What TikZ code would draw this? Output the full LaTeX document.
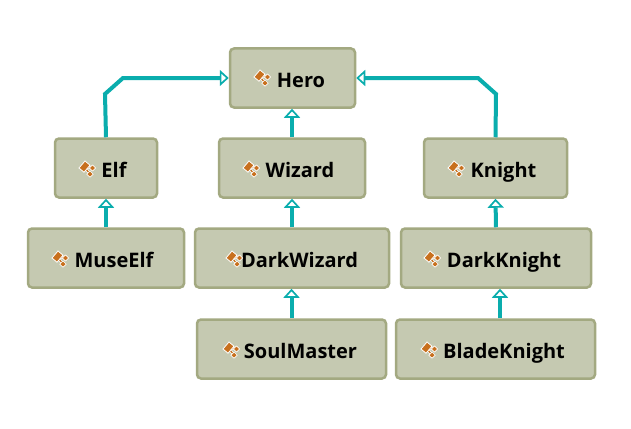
\documentclass[tikz,border=0pt]{standalone}
\usepackage{fontspec}
\setmainfont{Open Sans}
\usetikzlibrary{arrows.meta,calc}
\definecolor{boxfill}{HTML}{C5C9B1}
\definecolor{boxline}{HTML}{A3A981}
\definecolor{linkc}{HTML}{0AADAD}
\definecolor{iconc}{HTML}{C8701E}
\tikzset{
  cls/.style={draw=boxline,fill=boxfill,line width=2.5pt,rounded corners=4pt,
    minimum height=59pt,inner sep=0pt,text=black,text height=20pt,text depth=2pt,
    font=\fontsize{20}{24}\selectfont\bfseries},
  inherit/.style={draw=linkc,line width=4pt,
    -{Triangle[open,fill=white,length=9pt,width=16pt,line width=1.7pt]}},
  classicon/.pic={
    \draw[white,line width=2.6pt] (0,-2) -- (5,-1) (-1,0) -- (3,5);
    \draw[iconc,line width=1.2pt] (0,-2) -- (5,-1) (-1,0) -- (3,5);
    \fill[iconc,draw=white,line width=.8pt] (-2,-8) -- (-8,-1) -- (-3,3.2) -- (3,-3.8) -- cycle;
    \fill[iconc,draw=white,line width=.7pt] (5.5,-4) -- (8.7,-1) -- (5.5,2) -- (2.3,-1) -- cycle;
    \fill[iconc,draw=white,line width=.7pt] (3,2) -- (6.2,5.2) -- (3,8.2) -- (-.2,5.2) -- cycle;
  }
}
\newcommand{\gap}{\hspace*{16pt}}
\begin{document}
\begin{tikzpicture}[x=1pt,y=-1pt]
\useasboundingbox (0,0) rectangle (631,428);
\node[cls,minimum width=125pt] (hero) at (292.5,78) {\hspace*{17pt}Hero};
\node[cls,minimum width=102pt] (elf) at (106,168) {\gap Elf};
\node[cls,minimum width=146pt] (wizard) at (292,168) {\gap Wizard};
\node[cls,minimum width=143pt] (knight) at (495.5,168) {\gap Knight};
\node[cls,minimum width=156pt] (museelf) at (106,258) {\gap MuseElf};
\node[cls,minimum width=194pt] (darkwizard) at (292,258) {\hspace*{15pt}DarkWizard};
\node[cls,minimum width=190pt] (darkknight) at (496,258) {\gap DarkKnight};
\node[cls,minimum width=189pt] (soulmaster) at (291.5,349) {\hspace*{18pt}SoulMaster};
\node[cls,minimum width=199pt] (bladeknight) at (495.5,349) {\hspace*{17pt}BladeKnight};
\pic at (262,78) {classicon};
\pic at (87,169) {classicon};
\pic at (251,169) {classicon};
\pic at (456,169) {classicon};
\pic at (60,259) {classicon};
\pic at (234,259) {classicon};
\pic at (432,259) {classicon};
\pic at (231,350) {classicon};
\pic at (429,350) {classicon};
\coordinate (elfbend) at (105,94);
\coordinate (elfbend2) at (123,78);
\coordinate (knightbend) at (496,94);
\coordinate (knightbend2) at (478,78);
\coordinate (bkstart) at ($(bladeknight.north)+(4.5,0)$);
\draw[inherit] (elf.north) -- (elfbend) -- (elfbend2) -- (hero.west);
\draw[inherit] (knight.north) -- (knightbend) -- (knightbend2) -- (hero.east);
\draw[inherit] (wizard.north) -- (wizard.north |- hero.south);
\draw[inherit] (museelf.north) -- (elf.south);
\draw[inherit] (darkwizard.north) -- (wizard.south);
\draw[inherit] (darkknight.north) -- (knight.south);
\draw[inherit] (soulmaster.north) -- (soulmaster.north |- darkwizard.south);
\draw[inherit] (bkstart) -- (bkstart |- darkknight.south);
\end{tikzpicture}
\end{document}
